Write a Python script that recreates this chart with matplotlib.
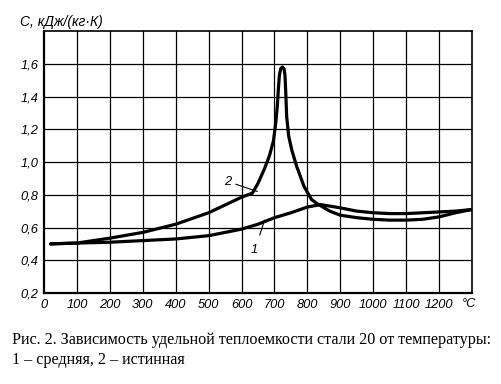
import matplotlib.pyplot as plt

# Curve 1: mean specific heat.
temp_mean = [20, 100, 200, 300, 400, 500, 600, 650, 700, 750, 800, 840, 900, 950, 1000,
             1050, 1100, 1150, 1200, 1250, 1300]
heat_mean = [0.50, 0.505, 0.51, 0.52, 0.53, 0.55, 0.59, 0.62, 0.66, 0.69, 0.725, 0.74, 0.72,
             0.70, 0.69, 0.685, 0.685, 0.69, 0.695, 0.70, 0.71]

# Curve 2: true specific heat.
temp_true = [20, 100, 200, 300, 400, 500, 600, 633, 650, 670, 685, 697, 704, 709, 712, 715,
             719, 724, 729, 732, 734, 737, 743, 753, 768, 790, 813, 830, 868, 900, 950,
             1000, 1050, 1100, 1150, 1200, 1250, 1300]
heat_true = [0.50, 0.505, 0.535, 0.57, 0.62, 0.69, 0.785, 0.81, 0.87, 0.96, 1.04, 1.13, 1.24,
             1.35, 1.45, 1.53, 1.57, 1.58, 1.57, 1.53, 1.44, 1.28, 1.16, 1.07, 0.97, 0.85,
             0.77, 0.745, 0.70, 0.675, 0.66, 0.65, 0.645, 0.645, 0.65, 0.665, 0.69, 0.71]

x_ticks = [0, 100, 200, 300, 400, 500, 600, 700, 800, 900, 1000, 1100, 1200]
y_ticks = [0.2, 0.4, 0.6, 0.8, 1.0, 1.2, 1.4, 1.6]
y_ticklabels = ['0,2', '0,4', '0,6', '0,8', '1,0', '1,2', '1,4', '1,6']

caption = ('Рис. 2. Зависимость удельной теплоемкости стали 20 от температуры:\n'
           '1 – средняя, 2 – истинная')

tick_font = dict(family=['Liberation Sans', 'DejaVu Sans'], style='italic', fontsize=9.3)

fig = plt.figure(figsize=(5.02, 3.84), dpi=100)
ax = fig.add_axes([44 / 502, 1 - 293 / 384, (472 - 44) / 502, (293 - 31) / 384])

# Grid.
for xv in range(100, 1300, 100):
    ax.axvline(xv, color='black', lw=0.9, zorder=1)
for yv in [0.4, 0.6, 0.8, 1.0, 1.2, 1.4, 1.6]:
    ax.axhline(yv, color='black', lw=0.9, zorder=1)

ax.plot(temp_mean, heat_mean, color='black', lw=2.3, zorder=3, solid_capstyle='round')
ax.plot(temp_true, heat_true, color='black', lw=2.3, zorder=3, solid_capstyle='round',
        solid_joinstyle='round')

ax.set_xlim(0, 1300)
ax.set_ylim(0.2, 1.8)
for sp in ax.spines.values():
    sp.set_linewidth(1.2)
ax.spines['bottom'].set_linewidth(1.6)
ax.spines['left'].set_linewidth(1.6)
ax.tick_params(length=0, pad=4)
ax.set_xticks(x_ticks)
ax.set_xticklabels([str(v) for v in x_ticks], **tick_font)
ax.set_yticks(y_ticks)
ax.set_yticklabels(y_ticklabels, **tick_font)
ax.text(1290, -0.018, '°C', transform=ax.get_xaxis_transform(), ha='center', va='top', **tick_font)

# Curve labels.
ax.annotate('2', xy=(648, 0.82), xytext=(570, 0.88), ha='right', va='center',
            arrowprops=dict(arrowstyle='-', color='black', lw=0.8, shrinkA=1, shrinkB=0),
            **tick_font)
ax.annotate('1', xy=(670, 0.645), xytext=(640, 0.46), ha='center', va='center',
            arrowprops=dict(arrowstyle='-', color='black', lw=0.8, shrinkA=5, shrinkB=0),
            **tick_font)

fig.text(20 / 502, 1 - 22 / 384, 'C, кДж/(кг·К)', ha='left', va='center',
         family=['Liberation Sans', 'DejaVu Sans'], style='italic', fontsize=10)

fig.text(12 / 502, 1 - 350 / 384, caption, ha='left', va='center', fontsize=11.6,
         family='Liberation Serif', linespacing=1.25)

fig.savefig('out.png', dpi=100)
plt.close()
